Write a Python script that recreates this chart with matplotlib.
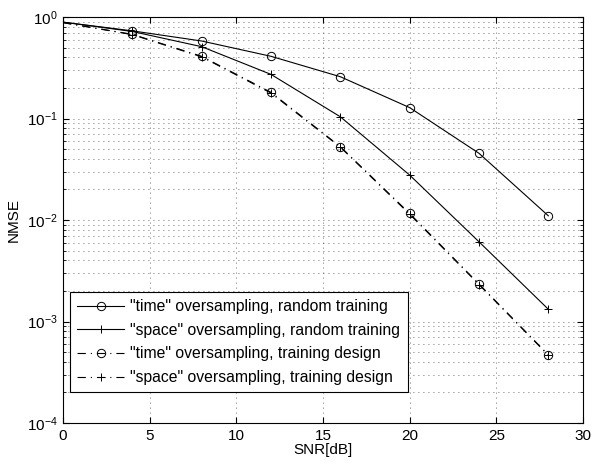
import matplotlib.pyplot as plt
import numpy as np

plt.rcParams['font.family'] = ['Liberation Sans', 'DejaVu Sans']
plt.rcParams['mathtext.fontset'] = 'custom'
plt.rcParams['mathtext.rm'] = 'Liberation Sans'
plt.rcParams['mathtext.it'] = 'Liberation Sans'

snr = [0, 4, 8, 12, 16, 20, 24, 28]
time_random = [0.89, 0.73, 0.58, 0.41, 0.258, 0.128, 0.0454, 0.011]
space_random = [0.89, 0.72, 0.51, 0.272, 0.104, 0.0277, 0.0061, 0.00132]
time_design = [0.88, 0.675, 0.41, 0.181, 0.0528, 0.0116, 0.00234, 0.00047]
space_design = [0.88, 0.67, 0.405, 0.178, 0.0522, 0.0114, 0.00231, 0.000465]

labels = ['"time" oversampling, random training',
          '"space" oversampling, random training',
          '"time" oversampling, training design',
          '"space" oversampling, training design']

fig = plt.figure(figsize=(5.93, 4.66), dpi=100)
ax = fig.add_axes([63 / 593, 1 - 423 / 466, 520 / 593, 406 / 466])

dashdot = (0, (7.5, 4.5, 1, 4.5))
kw = dict(color="black", lw=0.8, markersize=6, markerfacecolor="none",
          markeredgewidth=0.7, markevery=slice(1, None))
ax.semilogy(snr, time_random, linestyle="-", marker="o", label=labels[0], **kw)
ax.semilogy(snr, space_random, linestyle="-", marker="+", label=labels[1], **kw)
ax.semilogy(snr, time_design, linestyle=dashdot, marker="o", label=labels[2], **kw)
ax.semilogy(snr, space_design, linestyle=dashdot, marker="+", label=labels[3], **kw)

ax.set_xlim(0, 30)
ax.set_ylim(1e-4, 1)
ax.set_xticks([0, 5, 10, 15, 20, 25, 30])
ax.set_xlabel("SNR[dB]", fontsize=11, labelpad=0)
ax.set_ylabel("NMSE", fontsize=11, labelpad=4)
ax.tick_params(which="both", direction="in", top=True, right=True, labelsize=11)
ax.tick_params(which="major", length=4, pad=4)
ax.tick_params(which="minor", length=2)
ax.grid(True, which="major", linestyle=(0, (1, 5)), color="0.25", lw=0.6)
ax.grid(True, which="minor", axis="y", linestyle=(0, (1, 5)), color="0.25", lw=0.6)
for s in ax.spines.values():
    s.set_linewidth(0.8)

leg = ax.legend(loc="lower left", bbox_to_anchor=(0.0135, 0.076), fontsize=11.3,
                fancybox=False, framealpha=1, edgecolor="black",
                handlelength=3.0, handletextpad=0.4, borderpad=0.45,
                borderaxespad=0, labelspacing=0.55)
leg.get_frame().set_linewidth(0.8)

plt.savefig("out.png", dpi=100)
